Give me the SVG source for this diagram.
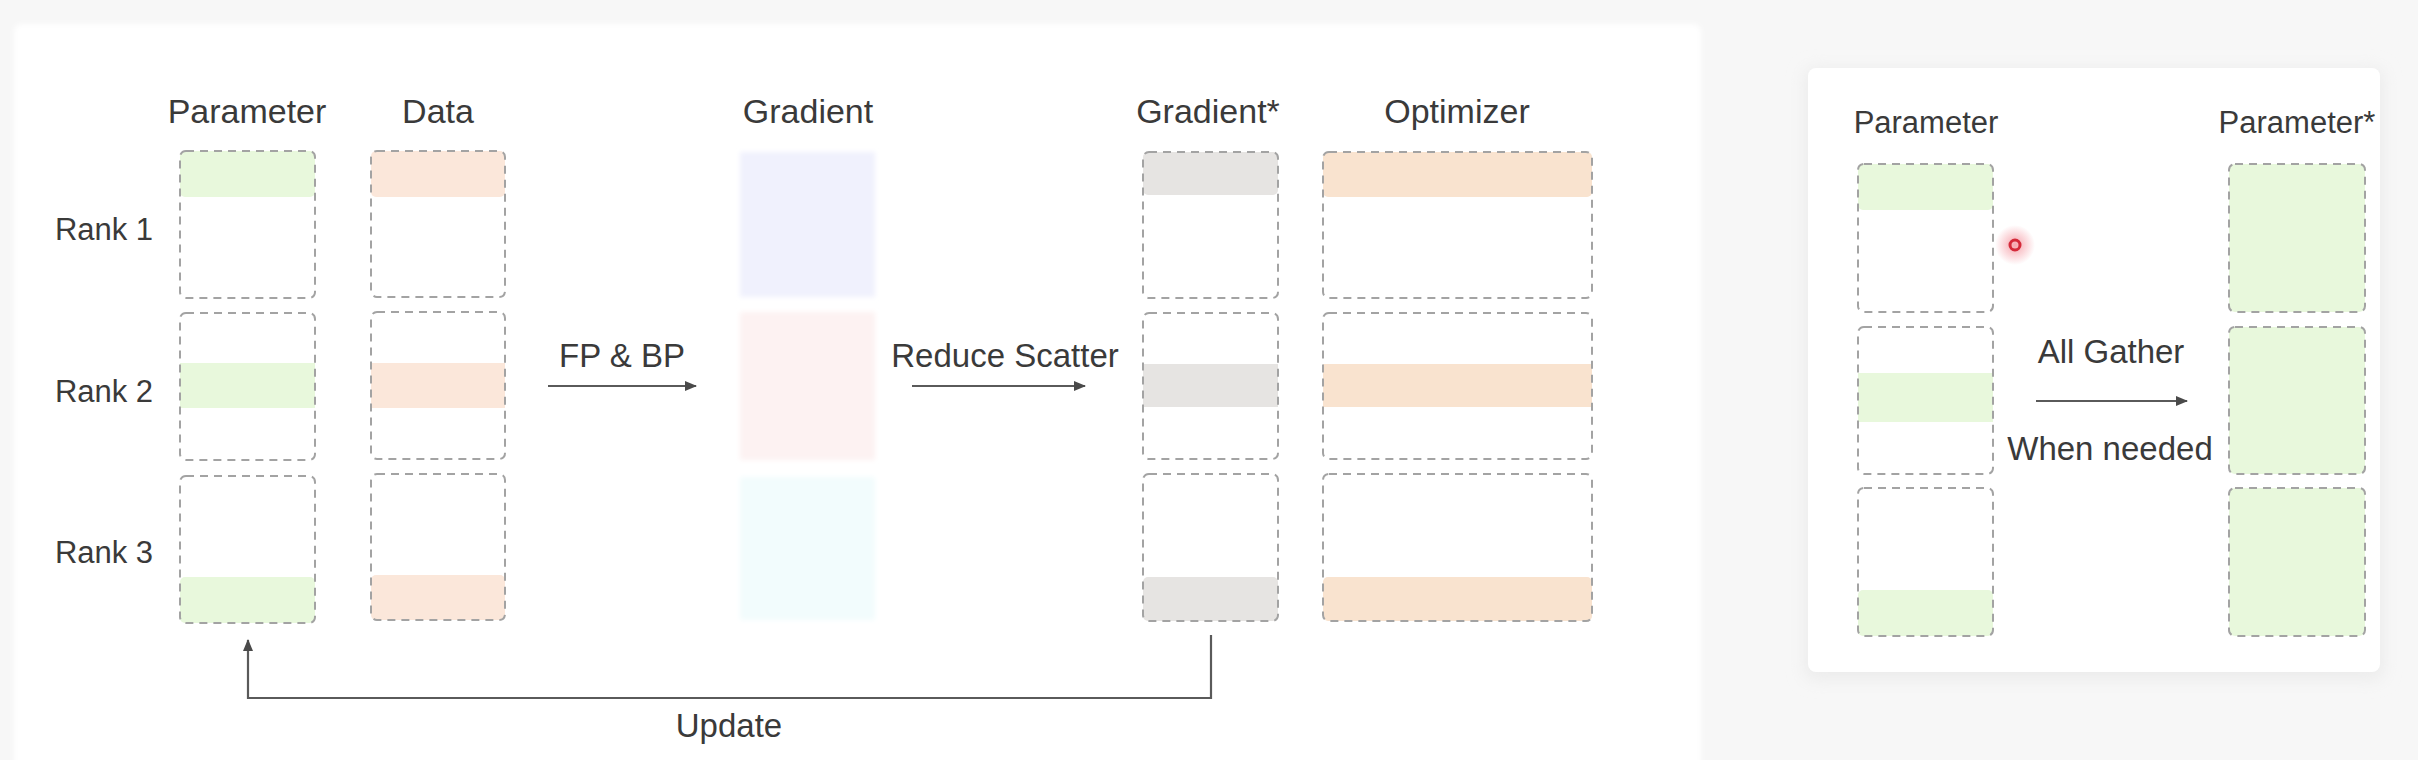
<svg xmlns="http://www.w3.org/2000/svg" width="2418" height="760" viewBox="0 0 2418 760">
  <defs>
    <style>
      .t { font-family: "Liberation Sans", Arial, sans-serif; fill: #3a3a3a; text-anchor: middle; }
      .h { font-size: 34px; }
      .hr { font-size: 31px; }
      .rk { font-size: 31px; }
      .lb { font-size: 33px; }
      .box { fill: none; stroke: #a3a3a3; stroke-width: 2; stroke-dasharray: 8 6; }
      .green { fill: #e8f8dc; }
      .orange { fill: #fbe7da; }
      .opt { fill: #f9e3cf; }
      .gray { fill: #e6e4e2; }
      .conn { fill: none; stroke: #5a5a5a; stroke-width: 2.2; }
    </style>
    <marker id="ah" markerUnits="userSpaceOnUse" markerWidth="12" markerHeight="10" refX="11" refY="5" orient="auto">
      <path d="M0,0 L12,5 L0,10 z" fill="#4a4a4a"/>
    </marker>
    <filter id="soft" x="-10%" y="-10%" width="120%" height="120%">
      <feGaussianBlur stdDeviation="8"/>
    </filter>
    <filter id="blur2" x="-20%" y="-20%" width="140%" height="140%">
      <feGaussianBlur stdDeviation="2.5"/>
    </filter>
    <radialGradient id="halo">
      <stop offset="0" stop-color="#f06a78" stop-opacity="0.6"/>
      <stop offset="1" stop-color="#f06a78" stop-opacity="0"/>
    </radialGradient>
  </defs>

  <!-- background and panels -->
  <rect x="0" y="0" width="2418" height="760" fill="#f7f7f7"/>
  <rect x="14" y="24" width="1687" height="760" rx="8" fill="#ffffff" filter="url(#blur2)"/>
  <rect x="1804" y="68" width="580" height="612" rx="10" fill="#ececec" filter="url(#soft)"/>
  <rect x="1808" y="68" width="572" height="604" rx="8" fill="#ffffff"/>

  <!-- headers -->
  <g id="headers">
    <text class="t h" x="247" y="123">Parameter</text>
    <text class="t h" x="438" y="123">Data</text>
    <text class="t h" x="808" y="123">Gradient</text>
    <text class="t h" x="1208" y="123">Gradient*</text>
    <text class="t h" x="1457" y="123">Optimizer</text>
    <text class="t hr" x="1926" y="133">Parameter</text>
    <text class="t hr" x="2297" y="133">Parameter*</text>
  </g>

  <g id="rank-labels">
    <text class="t rk" x="104" y="240">Rank 1</text>
    <text class="t rk" x="104" y="402">Rank 2</text>
    <text class="t rk" x="104" y="563">Rank 3</text>
  </g>

  <!-- Parameter column -->
  <g id="param-r1"><rect class="green" x="180" y="151" width="135" height="46" rx="5"/><rect class="box" x="180" y="151" width="135" height="147" rx="6"/></g>
  <g id="param-r2"><rect class="green" x="180" y="363" width="135" height="45"/><rect class="box" x="180" y="313" width="135" height="147" rx="6"/></g>
  <g id="param-r3"><rect class="green" x="180" y="577" width="135" height="46" rx="5"/><rect class="box" x="180" y="476" width="135" height="147" rx="6"/></g>

  <!-- Data column -->
  <g id="data-r1"><rect class="orange" x="371" y="151" width="134" height="46" rx="5"/><rect class="box" x="371" y="151" width="134" height="146" rx="6"/></g>
  <g id="data-r2"><rect class="orange" x="371" y="363" width="134" height="45"/><rect class="box" x="371" y="312" width="134" height="147" rx="6"/></g>
  <g id="data-r3"><rect class="orange" x="371" y="575" width="134" height="45" rx="5"/><rect class="box" x="371" y="474" width="134" height="146" rx="6"/></g>

  <!-- Gradient column -->
  <g id="grad-r1"><rect x="740" y="152" width="135" height="145" fill="#f0f1fd" filter="url(#blur2)"/></g>
  <g id="grad-r2"><rect x="740" y="312" width="135" height="148" fill="#fdf2f2" filter="url(#blur2)"/></g>
  <g id="grad-r3"><rect x="740" y="477" width="135" height="143" fill="#f2fcfd" filter="url(#blur2)"/></g>

  <!-- Gradient* column -->
  <g id="gradstar-r1"><rect class="gray" x="1143" y="152" width="135" height="43" rx="5"/><rect class="box" x="1143" y="152" width="135" height="146" rx="6"/></g>
  <g id="gradstar-r2"><rect class="gray" x="1143" y="364" width="135" height="43"/><rect class="box" x="1143" y="313" width="135" height="146" rx="6"/></g>
  <g id="gradstar-r3"><rect class="gray" x="1143" y="577" width="135" height="44" rx="5"/><rect class="box" x="1143" y="474" width="135" height="147" rx="6"/></g>

  <!-- Optimizer column -->
  <g id="opt-r1"><rect class="opt" x="1323" y="152" width="269" height="45" rx="5"/><rect class="box" x="1323" y="152" width="269" height="146" rx="6"/></g>
  <g id="opt-r2"><rect class="opt" x="1323" y="364" width="269" height="43"/><rect class="box" x="1323" y="313" width="269" height="146" rx="6"/></g>
  <g id="opt-r3"><rect class="opt" x="1323" y="577" width="269" height="44" rx="5"/><rect class="box" x="1323" y="474" width="269" height="147" rx="6"/></g>

  <!-- Right panel: Parameter -->
  <g id="rp-param-r1"><rect class="green" x="1858" y="164" width="135" height="46" rx="5"/><rect class="box" x="1858" y="164" width="135" height="148" rx="6"/></g>
  <g id="rp-param-r2"><rect class="green" x="1858" y="373" width="135" height="49"/><rect class="box" x="1858" y="327" width="135" height="147" rx="6"/></g>
  <g id="rp-param-r3"><rect class="green" x="1858" y="590" width="135" height="46" rx="5"/><rect class="box" x="1858" y="488" width="135" height="148" rx="6"/></g>

  <!-- Right panel: Parameter* -->
  <g id="rp-paramstar-r1"><rect class="box" x="2229" y="164" width="136" height="148" rx="6" style="fill:#e8f8dc"/></g>
  <g id="rp-paramstar-r2"><rect class="box" x="2229" y="327" width="136" height="147" rx="6" style="fill:#e8f8dc"/></g>
  <g id="rp-paramstar-r3"><rect class="box" x="2229" y="488" width="136" height="148" rx="6" style="fill:#e8f8dc"/></g>

  <!-- cursor dot -->
  <g id="cursor">
    <circle cx="2015" cy="245" r="20" fill="url(#halo)"/>
    <circle cx="2015" cy="245" r="5" fill="none" stroke="#d42a3a" stroke-width="3"/>
  </g>

  <!-- connectors -->
  <g id="connectors">
    <line class="conn" x1="548" y1="386" x2="696" y2="386" marker-end="url(#ah)"/>
    <line class="conn" x1="912" y1="386" x2="1085" y2="386" marker-end="url(#ah)"/>
    <line class="conn" x1="2036" y1="401" x2="2187" y2="401" marker-end="url(#ah)"/>
    <path class="conn" d="M1211 635 V698 H248 V640" marker-end="url(#ah)"/>
  </g>

  <g id="connector-labels">
    <text class="t lb" x="622" y="367">FP &amp; BP</text>
    <text class="t lb" x="1005" y="367">Reduce Scatter</text>
    <text class="t lb" x="729" y="737">Update</text>
    <text class="t lb" x="2111" y="363">All Gather</text>
    <text class="t lb" x="2110" y="460">When needed</text>
  </g>
</svg>
